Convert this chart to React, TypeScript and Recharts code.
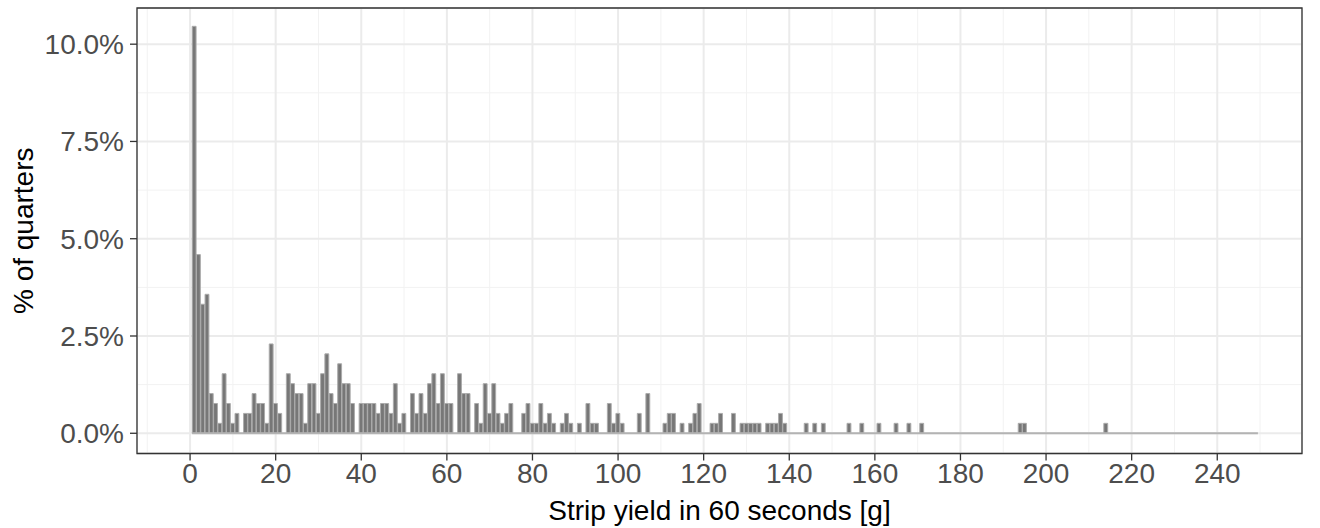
import React from 'react';
import {
  ComposedChart,
  Bar,
  XAxis,
  YAxis,
  CartesianGrid,
  ReferenceLine,
  ReferenceArea,
} from 'recharts';

// strip yield bins (1 g wide), only non-empty bins listed
const yieldGrams = [
  1, 2, 3, 4, 5, 6, 7, 8, 9, 10, 11, 13, 14, 15, 16, 17, 18, 19, 20, 21,
  23, 24, 25, 26, 27, 28, 29, 30, 31, 32, 33, 34, 35, 36, 37, 38, 40, 41, 42, 43,
  44, 45, 46, 47, 48, 49, 50, 52, 53, 54, 55, 56, 57, 58, 59, 60, 61, 63, 64, 65,
  67, 68, 69, 70, 71, 72, 73, 74, 75, 78, 79, 80, 81, 82, 83, 84, 85, 87, 88, 89,
  91, 93, 94, 95, 98, 99, 100, 101, 105, 107, 111, 112, 113, 115, 117, 118, 119, 122, 123, 124,
  127, 129, 130, 131, 132, 133, 135, 136, 137, 138, 139, 144, 146, 148, 154, 157, 161, 165, 168, 171,
  194, 195, 214,
];

// number of quarters falling in each bin above
const quarterCounts = [
  41, 18, 13, 14, 4, 3, 1, 6, 3, 1, 2, 2, 2, 4, 3, 3, 1, 9, 3, 2,
  6, 5, 4, 4, 1, 5, 5, 2, 6, 8, 4, 3, 7, 5, 5, 3, 3, 3, 3, 3,
  2, 3, 3, 2, 5, 1, 2, 4, 2, 4, 2, 5, 6, 3, 6, 3, 3, 6, 4, 4,
  3, 1, 5, 2, 5, 2, 1, 2, 3, 2, 3, 1, 1, 3, 1, 2, 1, 1, 2, 1,
  1, 3, 1, 1, 3, 1, 2, 1, 2, 4, 1, 2, 2, 1, 1, 2, 3, 1, 1, 2,
  2, 1, 1, 1, 1, 1, 1, 1, 1, 2, 1, 1, 1, 1, 1, 1, 1, 1, 1, 1,
  1, 1, 1,
];

// histogram covers bins 1..249 (empty ones show only as outline)
const binEdges = [0.5, 249.5];

const xTicks = [0, 20, 40, 60, 80, 100, 120, 140, 160, 180, 200, 220, 240];
const xMinorTicks = [-10, 10, 30, 50, 70, 90, 110, 130, 150, 170, 190, 210, 230, 250];
const yTicks = [0, 2.5, 5, 7.5, 10];
const yMinorTicks = [1.25, 3.75, 6.25, 8.75];

const xDomain = [-12.4, 259.8];
const yDomain = [-0.52, 10.93];

const totalQuarters = quarterCounts.reduce((a, b) => a + b, 0);

const data = yieldGrams.map((g, i) => ({
  g,
  pct: (quarterCounts[i] / totalQuarters) * 100,
}));

const FONT = '"Liberation Sans", Arial, Helvetica, sans-serif';

const YTitle = (props: any) => {
  const { viewBox } = props;
  const cx = viewBox.x + 23;
  const cy = viewBox.y + viewBox.height / 2;
  return (
    <text
      x={cx}
      y={cy}
      transform={`rotate(-90 ${cx} ${cy})`}
      textAnchor="middle"
      dominantBaseline="central"
      fontFamily={FONT}
      fontSize={28}
      fill="#000"
    >
      % of quarters
    </text>
  );
};

const XTitle = (props: any) => {
  const { viewBox } = props;
  const cx = viewBox.x + viewBox.width / 2;
  const cy = viewBox.y + 57;
  return (
    <text
      x={cx}
      y={cy}
      textAnchor="middle"
      dominantBaseline="central"
      fontFamily={FONT}
      fontSize={28}
      fill="#000"
    >
      Strip yield in 60 seconds [g]
    </text>
  );
};

export default function App() {
  return (
    <div style={{ position: 'absolute', left: 0, top: 0, background: '#fff' }}>
      <ComposedChart
        width={1320}
        height={528}
        data={data}
        margin={{ top: 8, right: 18, bottom: 0, left: 0 }}
      >
        <XAxis
          xAxisId="minor"
          type="number"
          dataKey="g"
          domain={xDomain}
          ticks={xMinorTicks}
          allowDataOverflow
          hide
        />
        <YAxis
          yAxisId="minor"
          type="number"
          domain={yDomain}
          ticks={yMinorTicks}
          allowDataOverflow
          hide
        />
        <CartesianGrid xAxisId="minor" yAxisId="minor" stroke="#f2f2f2" strokeWidth={1} />
        <XAxis
          type="number"
          dataKey="g"
          domain={xDomain}
          ticks={xTicks}
          allowDataOverflow
          interval={0}
          height={74.5}
          tickSize={7}
          tickMargin={3}
          axisLine={false}
          tickLine={{ stroke: '#333', strokeWidth: 1.3 }}
          tick={{ fill: '#4d4d4d', fontSize: 28, fontFamily: FONT }}
          label={<XTitle />}
        />
        <YAxis
          type="number"
          domain={yDomain}
          ticks={yTicks}
          allowDataOverflow
          interval={0}
          width={137}
          tickSize={7}
          tickMargin={6}
          axisLine={false}
          tickLine={{ stroke: '#333', strokeWidth: 1.3 }}
          tick={{ fill: '#4d4d4d', fontSize: 28, fontFamily: FONT }}
          tickFormatter={(v: number) => v.toFixed(1) + '%'}
          label={<YTitle />}
        />
        <CartesianGrid stroke="#ebebeb" strokeWidth={2} />
        <ReferenceLine
          segment={[
            { x: binEdges[0], y: 0 },
            { x: binEdges[1], y: 0 },
          ]}
          stroke="#b3b3b3"
          strokeWidth={2}
          ifOverflow="visible"
        />
        <Bar
          dataKey="pct"
          barSize={4.3}
          fill="#777777"
          stroke="#ababab"
          strokeWidth={1}
          isAnimationActive={false}
        />
        <ReferenceArea
          x1={xDomain[0]}
          x2={xDomain[1]}
          y1={yDomain[0]}
          y2={yDomain[1]}
          fill="none"
          stroke="#333"
          strokeWidth={1.3}
          ifOverflow="visible"
        />
      </ComposedChart>
    </div>
  );
}
